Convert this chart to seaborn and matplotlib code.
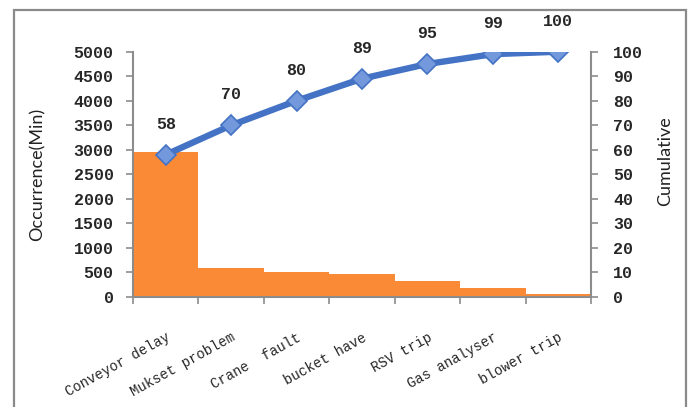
import numpy as np
import pandas as pd
import seaborn as sns
import matplotlib
matplotlib.use("Agg")
import matplotlib.pyplot as plt
from matplotlib.patches import Rectangle
from matplotlib.ticker import FixedLocator

# Downtime causes, occurrence in minutes, and cumulative share (%)
categories = ["Conveyor delay", "Mukset problem", "Crane  fault", "bucket have",
              "RSV trip", "Gas analyser", "blower trip"]
occurrence = [2950, 590, 510, 460, 325, 190, 65]
cumulative = [58, 70, 80, 89, 95, 99, 100]
left_ticks = [0, 500, 1000, 1500, 2000, 2500, 3000, 3500, 4000, 4500, 5000]
right_ticks = [0, 10, 20, 30, 40, 50, 60, 70, 80, 90, 100]

sns.set_theme(style="white")
plt.rcParams["font.family"] = ["DejaVu Sans"]

BAR = "#FB8A36"
LINE = "#4472C4"
FACE = "#7399DC"
SPINE = "#8C8C8C"
num_font = dict(family="Liberation Mono", weight="bold", size=12)

df = pd.DataFrame({"cause": categories, "minutes": occurrence, "cum": cumulative})

fig = plt.figure(figsize=(6.91, 4.07), dpi=100)
ax = fig.add_axes([133 / 691, 1 - 297 / 407, 458 / 691, 245.3 / 407])

sns.barplot(data=df, x="cause", y="minutes", color=BAR, width=1.0,
            saturation=1, ax=ax, edgecolor="none")
ax.set_ylim(0, 5000)
ax.set_xlim(-0.5, len(categories) - 0.5)
ax.set_yticks(left_ticks)
ax.set_yticklabels([str(t) for t in left_ticks], fontdict=num_font)
ax.set_xticks(range(len(categories)))
ax.set_xticklabels(categories, family="Liberation Mono", size=10,
                   rotation=29, ha="right", rotation_mode="anchor")
ax.xaxis.set_minor_locator(FixedLocator(np.arange(-0.5, len(categories), 1.0)))
ax.tick_params(axis="x", which="major", length=0, pad=24)
ax.tick_params(axis="x", which="minor", length=5, width=1.2, color=SPINE, bottom=True)
ax.tick_params(axis="y", length=5, width=1.2, color=SPINE, left=True, pad=9)
ax.set_xlabel("")
ax.set_ylabel("Occurrence(Min)", family="Lato", fontsize=13, color="#222222")
ax.yaxis.set_label_coords(-0.192, 0.5)
for s in ["top", "right"]:
    ax.spines[s].set_visible(False)
for s in ["left", "bottom"]:
    ax.spines[s].set_color(SPINE)
    ax.spines[s].set_linewidth(1.5)

ax2 = ax.twinx()
sns.pointplot(data=df, x="cause", y="cum", ax=ax2, color=LINE, markers="D",
              linewidth=4.6, markersize=10.5, markerfacecolor=FACE,
              markeredgecolor=LINE, markeredgewidth=1.2)
ax2.set_ylim(0, 100)
ax2.set_xlim(-0.5, len(categories) - 0.5)
ax2.set_yticks(right_ticks)
ax2.set_yticklabels([str(t) for t in right_ticks], fontdict=num_font)
ax2.tick_params(axis="y", length=5, width=1.2, color=SPINE, right=True, pad=11)
ax2.set_xlabel("")
ax2.set_ylabel("Cumulative", family="Lato", fontsize=13, color="#222222")
ax2.yaxis.set_label_coords(1.144, 0.554)
for s in ["top", "left", "bottom"]:
    ax2.spines[s].set_visible(False)
ax2.spines["right"].set_color(SPINE)
ax2.spines["right"].set_linewidth(1.5)

for i, v in enumerate(cumulative):
    ax2.annotate(str(v), (i, v), xytext=(0, 22), textcoords="offset points",
                 ha="center", va="center", **{"family": "Liberation Mono",
                                              "weight": "bold", "size": 12})

# outer chart frame
fig.patches.append(Rectangle((14 / 691, -0.05), 672 / 691, 1.05 - 10 / 407,
                             transform=fig.transFigure, fill=False,
                             edgecolor="#8A8A8A", linewidth=1.6))

fig.savefig("out.png", dpi=100)
